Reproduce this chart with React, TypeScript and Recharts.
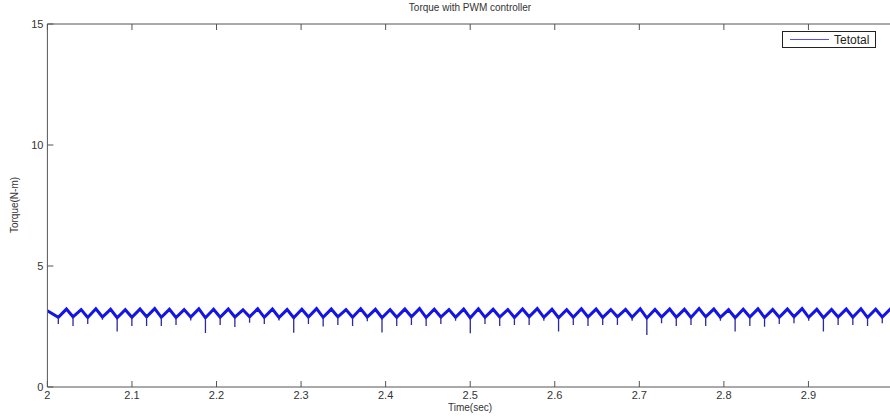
import React from 'react';
import { LineChart, Line, XAxis, YAxis, Legend } from 'recharts';

// Time of each periodic dip (sec)
const dipTimes = [
  2.0129, 2.0303, 2.0477, 2.0651, 2.0825, 2.0999, 2.1173, 2.1347, 2.1521, 2.1695,
  2.1869, 2.2043, 2.2217, 2.2391, 2.2565, 2.2739, 2.2913, 2.3087, 2.3261, 2.3435,
  2.3609, 2.3783, 2.3957, 2.4131, 2.4305, 2.4479, 2.4653, 2.4827, 2.5001, 2.5175,
  2.5349, 2.5523, 2.5697, 2.5871, 2.6045, 2.6219, 2.6393, 2.6567, 2.6741, 2.6915,
  2.7089, 2.7263, 2.7437, 2.7611, 2.7785, 2.7959, 2.8133, 2.8307, 2.8481, 2.8655,
  2.8829, 2.9003, 2.9177, 2.9351, 2.9525, 2.9699, 2.9873,
];
// Lowest torque of each dip spike (N-m)
const dipValues = [
  2.60, 2.52, 2.60, 2.78, 2.29, 2.52, 2.52, 2.52, 2.56, 2.75,
  2.23, 2.56, 2.48, 2.66, 2.60, 2.75, 2.24, 2.60, 2.50, 2.56,
  2.52, 2.72, 2.25, 2.52, 2.56, 2.52, 2.60, 2.74, 2.22, 2.60,
  2.52, 2.56, 2.56, 2.74, 2.29, 2.56, 2.52, 2.56, 2.56, 2.74,
  2.15, 2.63, 2.52, 2.56, 2.52, 2.74, 2.29, 2.52, 2.49, 2.60,
  2.63, 2.74, 2.29, 2.56, 2.56, 2.52, 2.63,
];
// Trough level of the ripple at each dip (N-m)
const troughValues = [
  2.88, 2.90, 2.87, 2.89, 2.86, 2.88, 2.90, 2.88, 2.87, 2.89,
  2.86, 2.88, 2.89, 2.90, 2.88, 2.87, 2.86, 2.89, 2.88, 2.90,
  2.88, 2.89, 2.86, 2.88, 2.90, 2.87, 2.89, 2.88, 2.86, 2.88,
  2.89, 2.87, 2.90, 2.88, 2.86, 2.88, 2.89, 2.87, 2.90, 2.88,
  2.85, 2.89, 2.88, 2.87, 2.90, 2.88, 2.86, 2.89, 2.87, 2.88,
  2.90, 2.88, 2.86, 2.89, 2.88, 2.87, 2.89,
];
// Peak level of the ripple following each dip (N-m)
const peakValues = [
  3.22, 3.20, 3.23, 3.21, 3.19, 3.22, 3.24, 3.21, 3.20, 3.23,
  3.21, 3.22, 3.19, 3.23, 3.22, 3.20, 3.21, 3.24, 3.22, 3.20,
  3.23, 3.21, 3.19, 3.22, 3.24, 3.21, 3.20, 3.22, 3.23, 3.21,
  3.20, 3.22, 3.24, 3.21, 3.19, 3.23, 3.22, 3.20, 3.21, 3.23,
  3.20, 3.22, 3.21, 3.24, 3.22, 3.19, 3.21, 3.23, 3.20, 3.22,
  3.24, 3.21, 3.20, 3.22, 3.23, 3.21, 3.22,
];
const startPoint = { t: 2.0, v: 3.15 };
const endPoint = { t: 3.0, v: 3.17 };
const PEAK_LAG = 0.0096;

const xTicks = [2, 2.1, 2.2, 2.3, 2.4, 2.5, 2.6, 2.7, 2.8, 2.9];
const yTicks = [0, 5, 10, 15];

const mainData: { t: number; v: number }[] = [startPoint];
dipTimes.forEach((d, k) => {
  mainData.push({ t: d, v: troughValues[k] });
  mainData.push({ t: d + PEAK_LAG, v: peakValues[k] });
});
mainData.push(endPoint);

const spikeData: { t: number; v: number | null }[] = [];
dipTimes.forEach((d, k) => {
  spikeData.push({ t: d, v: troughValues[k] });
  spikeData.push({ t: d, v: dipValues[k] });
  spikeData.push({ t: d, v: null });
});

const FONT = '"Liberation Sans", Arial, Helvetica, sans-serif';
const AXIS = '#555';
const TXT = '#333';

const BottomTick = (p: any) => (
  <g>
    <line x1={p.x} x2={p.x} y1={p.y} y2={p.y - 6} stroke={AXIS} />
    <text x={p.x} y={p.y + 12} textAnchor="middle" fontSize={11} fontFamily={FONT} fill={TXT}>
      {String(p.payload.value)}
    </text>
  </g>
);
const TopTick = (p: any) => (
  <g>
    <line x1={p.x} x2={p.x} y1={p.y} y2={p.y + 6} stroke={AXIS} />
  </g>
);
const LeftTick = (p: any) => (
  <g>
    <line x1={p.x} x2={p.x + 6} y1={p.y} y2={p.y} stroke={AXIS} />
    <text x={p.x - 4} y={p.y + 4} textAnchor="end" fontSize={11} fontFamily={FONT} fill={TXT}>
      {String(p.payload.value)}
    </text>
  </g>
);

const LegendBox = () => (
  <div
    style={{
      width: 94,
      height: 17,
      boxSizing: 'border-box',
      border: '1px solid #222',
      background: '#fff',
      display: 'flex',
      alignItems: 'center',
      fontFamily: FONT,
      fontSize: 12,
      color: '#222',
    }}
  >
    <div style={{ marginLeft: 7, width: 39, height: 1, background: '#5050ff' }} />
    <span style={{ marginLeft: 5 }}>Tetotal</span>
  </div>
);

export default function App() {
  return (
    <div style={{ position: 'absolute', left: 0, top: 0, width: 890, height: 418, overflow: 'hidden', background: '#fff' }}>
      <LineChart width={900} height={418} margin={{ top: 4, right: 7, bottom: 11, left: 0.4 }}>
        <XAxis
          dataKey="t"
          type="number"
          domain={[2, 3]}
          ticks={xTicks}
          allowDataOverflow
          height={20}
          tickSize={0}
          tickMargin={0}
          tickLine={false}
          axisLine={{ stroke: AXIS }}
          tick={BottomTick}
          interval={0}
        />
        <XAxis
          xAxisId="top"
          orientation="top"
          dataKey="t"
          type="number"
          domain={[2, 3]}
          ticks={xTicks}
          allowDataOverflow
          height={20}
          tickSize={0}
          tickMargin={0}
          tickLine={false}
          axisLine={{ stroke: AXIS }}
          tick={TopTick}
          interval={0}
        />
        <YAxis
          type="number"
          domain={[0, 15]}
          ticks={yTicks}
          allowDataOverflow
          width={47}
          tickSize={0}
          tickMargin={0}
          tickLine={false}
          axisLine={{ stroke: AXIS }}
          tick={LeftTick}
          interval={0}
        />
        <Legend
          layout="horizontal"
          verticalAlign="middle"
          align="center"
          wrapperStyle={{ left: 782, top: 31, width: 94, height: 17 }}
          content={LegendBox}
        />
        <Line
          name="Tetotal"
          data={mainData}
          dataKey="v"
          stroke="#1414e6"
          strokeWidth={3}
          dot={false}
          activeDot={false}
          isAnimationActive={false}
        />
        <Line
          name="dips"
          legendType="none"
          data={spikeData}
          dataKey="v"
          stroke="#2a2a99"
          strokeWidth={1.3}
          dot={false}
          activeDot={false}
          connectNulls={false}
          isAnimationActive={false}
        />
      </LineChart>
      <div style={{ position: 'absolute', left: 370, width: 200, top: 2, textAlign: 'center', fontFamily: FONT, fontSize: 10, color: TXT, whiteSpace: 'nowrap' }}>
        Torque with PWM controller
      </div>
      <div style={{ position: 'absolute', left: 370, width: 200, top: 402, textAlign: 'center', fontFamily: FONT, fontSize: 10, color: TXT, whiteSpace: 'nowrap' }}>
        Time(sec)
      </div>
      <div
        style={{
          position: 'absolute',
          left: 14,
          top: 205,
          transform: 'translate(-50%, -50%) rotate(-90deg)',
          fontFamily: FONT,
          fontSize: 10,
          color: TXT,
          whiteSpace: 'nowrap',
        }}
      >
        Torque(N-m)
      </div>
    </div>
  );
}
